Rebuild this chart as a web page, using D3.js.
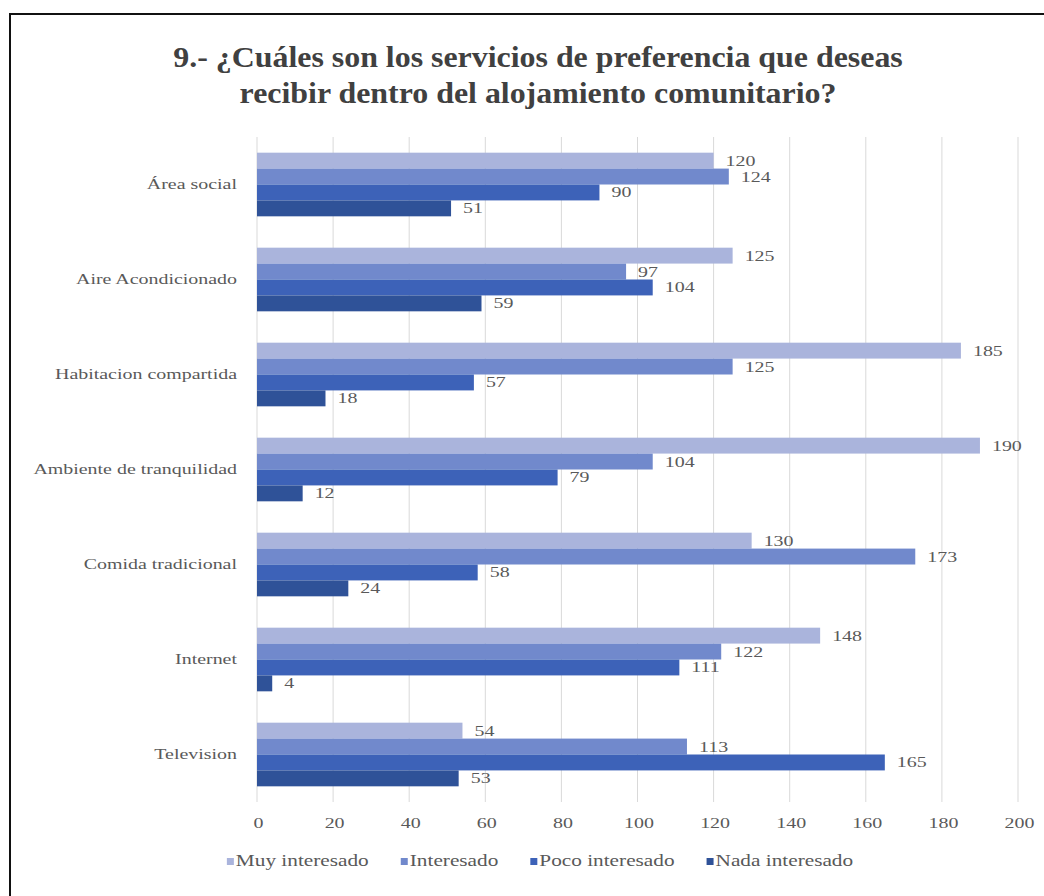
<!DOCTYPE html>
<html>
<head>
<meta charset="utf-8">
<script src="https://cdn.jsdelivr.net/npm/d3@7"></script>
<style>
  html, body { margin: 0; padding: 0; background: #fff; }
  svg { display: block; }
</style>
</head>
<body>
<svg id="chart" width="1044" height="896"></svg>
<script>
const titleLines = ["9.- ¿Cuáles son los servicios de preferencia que deseas", "recibir dentro del alojamiento comunitario?"];
const categories = ["Área social", "Aire Acondicionado", "Habitacion compartida", "Ambiente de tranquilidad", "Comida tradicional", "Internet", "Television"];
const seriesNames = ["Muy interesado", "Interesado", "Poco interesado", "Nada interesado"];
const muyInteresado = [120, 125, 185, 190, 130, 148, 54];
const interesado = [124, 97, 125, 104, 173, 122, 113];
const pocoInteresado = [90, 104, 57, 79, 58, 111, 165];
const nadaInteresado = [51, 59, 18, 12, 24, 4, 53];
const xTicks = [0, 20, 40, 60, 80, 100, 120, 140, 160, 180, 200];
const colors = ["#aab4dc", "#7189cc", "#3d62b8", "#2f5298"];

const seriesValues = [muyInteresado, interesado, pocoInteresado, nadaInteresado];

const svg = d3.select("#chart");
const serif = "'Times New Roman', 'Liberation Serif', 'DejaVu Serif', serif";
const textGray = "#595959";
const stretch = 1.33;

// frame
svg.append("rect").attr("x", 10).attr("y", 14).attr("width", 1060).attr("height", 900)
  .attr("fill", "#fff").attr("stroke", "#111").attr("stroke-width", 2);

// title
svg.append("g").selectAll("g").data(titleLines).join("g")
  .attr("transform", (d, i) => `translate(538,${67 + i * 36}) scale(1.1,1)`)
  .append("text")
  .attr("text-anchor", "middle")
  .attr("font-family", serif).attr("font-weight", "bold").attr("font-size", 29)
  .attr("fill", "#404040")
  .text(d => d);

const x = d3.scaleLinear().domain([0, 200]).range([257, 1018]);
const y = d3.scaleBand().domain(categories).range([137, 802]).paddingInner(0.33).paddingOuter(0.165);
const yInner = d3.scaleBand().domain(seriesNames).range([0, y.bandwidth()]);

// gridlines
svg.append("g").selectAll("line").data(xTicks).join("line")
  .attr("x1", d => x(d)).attr("x2", d => x(d))
  .attr("y1", 137).attr("y2", 802)
  .attr("stroke", "#d9d9d9").attr("stroke-width", 1);

// x axis labels
const xAxis = d3.axisBottom(x).tickValues(xTicks).tickSize(0).tickPadding(0);
const gx = svg.append("g").attr("transform", "translate(1,817)").call(xAxis);
gx.select(".domain").remove();
gx.selectAll("text").attr("font-family", serif).attr("font-size", 15)
  .attr("fill", textGray).attr("transform", `scale(${stretch},1)`);

// y axis labels
const yAxis = d3.axisLeft(y).tickSize(0).tickPadding(0);
const gy = svg.append("g").attr("transform", "translate(237,0)").call(yAxis);
gy.select(".domain").remove();
gy.selectAll("text").attr("font-family", serif).attr("font-size", 15)
  .attr("fill", textGray).attr("transform", `scale(${stretch},1)`);

// bars
const rows = [];
categories.forEach((c, ci) => {
  seriesNames.forEach((s, si) => {
    rows.push({ cat: c, series: s, si: si, value: seriesValues[si][ci] });
  });
});

const bars = svg.append("g");
bars.selectAll("rect").data(rows).join("rect")
  .attr("x", x(0))
  .attr("y", d => y(d.cat) + yInner(d.series))
  .attr("width", d => x(d.value) - x(0))
  .attr("height", yInner.bandwidth())
  .attr("fill", d => colors[d.si]);

bars.selectAll("g.lbl").data(rows).join("g").attr("class", "lbl")
  .attr("transform", d => `translate(${x(d.value) + 12},${y(d.cat) + yInner(d.series) + yInner.bandwidth() / 2 + 5}) scale(${stretch},1)`)
  .append("text")
  .attr("font-family", serif).attr("font-size", 15)
  .attr("fill", textGray)
  .text(d => d.value);

// legend
const legend = svg.append("g").attr("transform", "translate(0,862)");
const items = legend.selectAll("g").data(seriesNames).join("g");
items.append("rect").attr("width", 7).attr("height", 7).attr("y", -8)
  .attr("fill", (d, i) => colors[i]);
items.append("g").attr("transform", `translate(9,0) scale(${stretch},1)`)
  .append("text")
  .attr("font-family", serif).attr("font-size", 16)
  .attr("fill", textGray)
  .text(d => d);
let widths = [];
items.each(function () { widths.push(this.getBBox().width * 1); });
const gap = 32;
const total = d3.sum(widths) + gap * (widths.length - 1);
let cx = 540 - total / 2;
items.each(function (d, i) {
  d3.select(this).attr("transform", `translate(${cx},4)`);
  cx += widths[i] + gap;
});
</script>
</body>
</html>
